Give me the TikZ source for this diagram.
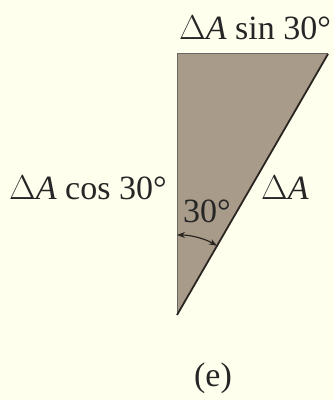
\documentclass[tikz,border=0pt]{standalone}
\usepackage{fontspec}
\setmainfont{Liberation Serif}
\usetikzlibrary{arrows.meta}
\definecolor{bg}{HTML}{FFFFEE}
\definecolor{wedge}{HTML}{A99B89}
\definecolor{edge}{HTML}{2A2520}
\tikzset{
  lbl/.style={font=\fontsize{17}{19}\selectfont, inner sep=0pt, text=black!85},
  side/.style={draw=edge!70, line width=0.5pt},
  hyp/.style={draw=edge, line width=0.9pt},
  angarr/.style={draw=edge, line width=0.6pt, {Stealth[length=4pt,width=3pt]}-{Stealth[length=4pt,width=3pt]}}
}
\begin{document}
\begin{tikzpicture}[x=0.5pt,y=-0.5pt]
\fill[bg] (0,0) rectangle (334,400);
\useasboundingbox (0,0) rectangle (334,400);
\coordinate (tl) at (177,54);
\coordinate (tr) at (328,54);
\coordinate (bt) at (177,315);
\fill[wedge] (tl) -- (tr) -- (bt) -- cycle;
\draw[side] (bt) -- (tl) -- (tr);
\draw[hyp] (tr) -- (bt);
\draw[angarr] ([yshift=40pt]bt) arc[start angle=90, end angle=60, radius=40pt];
\node[lbl] (sin) at (255,28) {$\Delta$\textit{A} sin 30°};
\node[lbl, anchor=east] (cos) at (167,188) {$\Delta$\textit{A} cos 30°};
\node[lbl] (dA) at (285,188) {$\Delta$\textit{A}};
\node[lbl] (ang) at (207,211) {30°};
\node[lbl] (e) at (213,378) {(e)};
\end{tikzpicture}
\end{document}
